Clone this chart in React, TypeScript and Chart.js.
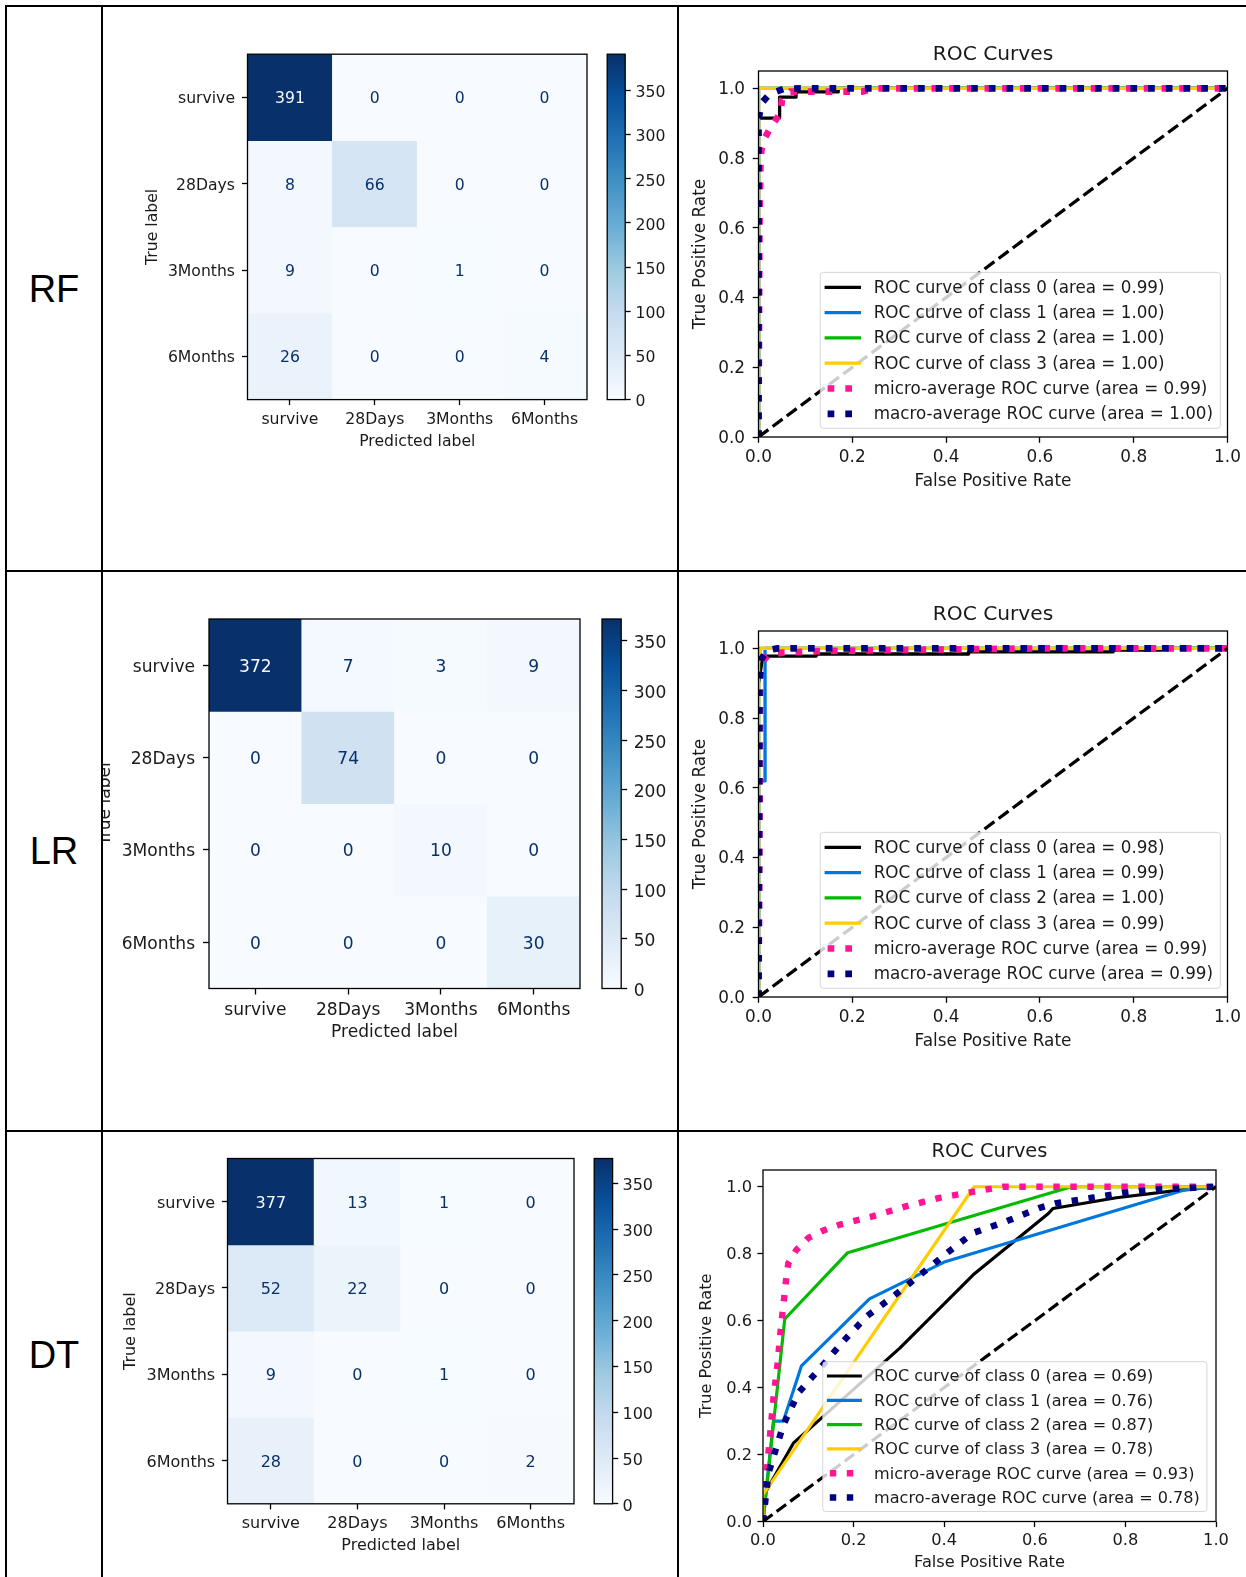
import React, { useEffect, useRef } from "react";
import { Chart, registerables } from "chart.js";

Chart.register(...registerables);

// ---------------- data ----------------
const MODEL_NAMES = ["RF", "LR", "DT"];
const CLASS_LABELS = ["survive", "28Days", "3Months", "6Months"];

const CM_RF = [
  [391, 0, 0, 0],
  [8, 66, 0, 0],
  [9, 0, 1, 0],
  [26, 0, 0, 4],
];
const CM_LR = [
  [372, 7, 3, 9],
  [0, 74, 0, 0],
  [0, 0, 10, 0],
  [0, 0, 0, 30],
];
const CM_DT = [
  [377, 13, 1, 0],
  [52, 22, 0, 0],
  [9, 0, 1, 0],
  [28, 0, 0, 2],
];

const COLORBAR_TICKS = [0, 50, 100, 150, 200, 250, 300, 350];
const ROC_TICKS = [0, 0.2, 0.4, 0.6, 0.8, 1.0];

const CURVE_NAMES = [
  "ROC curve of class 0",
  "ROC curve of class 1",
  "ROC curve of class 2",
  "ROC curve of class 3",
  "micro-average ROC curve",
  "macro-average ROC curve",
];
const AUC_RF = [0.99, 1.0, 1.0, 1.0, 0.99, 1.0];
const AUC_LR = [0.98, 0.99, 1.0, 0.99, 0.99, 0.99];
const AUC_DT = [0.69, 0.76, 0.87, 0.78, 0.93, 0.78];

const DIAGONAL = [[0, 0], [1, 1]];

// RF curves [fpr, tpr]
const RF_CLASS0 = [[0, 0], [0, 0.915], [0.045, 0.915], [0.045, 0.975], [0.08, 0.975], [0.08, 0.99], [0.17, 0.99], [0.17, 1], [1, 1]];
const RF_CLASS1 = [[0, 0], [0, 1], [1, 1]];
const RF_CLASS2 = [[0, 0], [0, 1], [1, 1]];
const RF_CLASS3 = [[0, 0], [0, 1], [1, 1]];
const RF_MICRO = [[0, 0], [0.002, 0.6], [0.004, 0.775], [0.006, 0.823], [0.013, 0.857], [0.029, 0.895], [0.047, 0.929], [0.05, 0.967], [0.068, 0.991], [0.221, 0.991], [0.25, 1], [1, 1]];
const RF_MACRO = [[0, 0], [0, 0.91], [0.006, 0.957], [0.024, 0.984], [0.053, 0.998], [0.09, 1], [1, 1]];

// LR curves
const LR_CLASS0 = [[0, 0], [0, 0.9], [0.008, 0.967], [0.012, 0.978], [0.123, 0.978], [0.123, 0.984], [0.448, 0.984], [0.448, 0.99], [0.756, 0.99], [0.756, 0.995], [0.858, 0.995], [0.858, 1], [1, 1]];
const LR_CLASS1 = [[0, 0], [0, 0.62], [0.014, 0.62], [0.014, 1], [1, 1]];
const LR_CLASS2 = [[0, 0], [0, 1], [1, 1]];
const LR_CLASS3 = [[0, 0], [0, 0.97], [0.005, 1], [1, 1]];
const LR_MICRO = [[0, 0], [0.004, 0.93], [0.01, 0.965], [0.02, 0.98], [0.05, 0.988], [0.15, 0.993], [0.4, 0.997], [0.6, 1], [1, 1]];
const LR_MACRO = [[0, 0], [0.002, 0.9], [0.006, 0.97], [0.02, 0.995], [0.04, 1], [1, 1]];

// DT curves
const DT_CLASS0 = [[0, 0], [0, 0.075], [0.067, 0.234], [0.302, 0.518], [0.464, 0.737], [0.63, 0.92], [0.64, 0.935], [0.78, 0.967], [0.92, 0.99], [1, 1]];
const DT_CLASS1 = [[0, 0], [0.023, 0.3], [0.045, 0.3], [0.085, 0.465], [0.235, 0.665], [0.4, 0.775], [0.93, 0.99], [1, 1]];
const DT_CLASS2 = [[0, 0], [0.048, 0.605], [0.187, 0.803], [0.681, 1], [1, 1]];
const DT_CLASS3 = [[0, 0], [0, 0.08], [0.466, 1], [1, 1]];
const DT_MICRO = [[0, 0], [0.005, 0.1], [0.015, 0.25], [0.023, 0.367], [0.032, 0.47], [0.039, 0.573], [0.051, 0.722], [0.056, 0.772], [0.074, 0.812], [0.1, 0.847], [0.133, 0.869], [0.17, 0.887], [0.243, 0.912], [0.317, 0.942], [0.39, 0.967], [0.464, 0.985], [0.53, 1], [1, 1]];
const DT_MACRO = [[0, 0], [0.008, 0.095], [0.012, 0.144], [0.045, 0.289], [0.078, 0.384], [0.126, 0.458], [0.177, 0.538], [0.229, 0.613], [0.288, 0.673], [0.347, 0.737], [0.406, 0.802], [0.464, 0.862], [0.538, 0.897], [0.611, 0.937], [0.645, 0.95], [0.726, 0.967], [0.798, 0.982], [0.871, 0.992], [1, 1]];

// ---------------- styles / layout ----------------
const FONT = "'DejaVu Sans', 'Noto Sans', sans-serif";
const TEXT = "#1a1a1a";
const CURVE_COLORS = ["#000000", "#0077dd", "#00bb00", "#ffcc00", "#ff1493", "#000080"];
const BLUES = ["#f7fbff", "#deebf7", "#c6dbef", "#9ecae1", "#6baed6", "#4292c6", "#2171b5", "#08519c", "#08306b"];

const ROW_BOUNDS = [
  { top: 7, bottom: 570 },
  { top: 572, bottom: 1130 },
  { top: 1132, bottom: 1577 },
];

const CM_LAYOUT = [
  { L: 247.5, R: 587.2, T: 54.2, B: 399.6, font: 15.65, xTickC: 418.3, xTitleC: 440.5, yTickR: 235, yTitleC: 153, cbL: 607.4, cbR: 625.2, cbLabelL: 635.5 },
  { L: 209, R: 579.5, T: 619, B: 988.5, font: 17.1, xTickC: 1008.6, xTitleC: 1031.8, yTickR: 195.1, yTitleC: 106, cbL: 601.5, cbR: 620.2, cbLabelL: 632.7 },
  { L: 227.5, R: 573.5, T: 1158.5, B: 1503.8, font: 16.0, xTickC: 1522.5, xTitleC: 1544.6, yTickR: 215.2, yTitleC: 131, cbL: 593.7, cbR: 611.6, cbLabelL: 621.5 },
];

const ROC_LAYOUT = [
  { L: 758.5, R: 1227.5, T: 71, B: 437, s: 1, titleC: 53.5, yTitleC: 701, yTickR: 745, xTickC: 455.5, xTitleC: 480, gapR: 7.1, gapB: 8.7 },
  { L: 758.5, R: 1227.5, T: 631, B: 997, s: 1, titleC: 613.5, yTitleC: 701, yTickR: 745, xTickC: 1015.5, xTitleC: 1040, gapR: 7.1, gapB: 8.7 },
  { L: 763, R: 1216, T: 1170, B: 1521.5, s: 0.961, titleC: 1151.4, yTitleC: 707, yTickR: 752, xTickC: 1538.6, xTitleC: 1561.7, gapR: 9.1, gapB: 10 },
];

const CM_CANVAS_LEFT = 103;
const ROC_CANVAS_LEFT = 679;
const PAGE_W = 1246;
const COL_DIVIDER = 677;
const ROC_FONT = 16.9;
const LEGEND_FONT = 16.75;
const ROC_TITLE_FONT = 20.2;
const TEXT_SHIFT = 0.11; // em, lowers text to match matplotlib centring

function hexToRgb(h: string) {
  const n = parseInt(h.slice(1), 16);
  return [(n >> 16) & 255, (n >> 8) & 255, n & 255];
}
function blues(t: number) {
  const v = Math.max(0, Math.min(1, t));
  const pos = v * 8;
  const i = Math.min(7, Math.floor(pos));
  const f = pos - i;
  const a = hexToRgb(BLUES[i]);
  const b = hexToRgb(BLUES[i + 1]);
  const c = a.map((x, k) => Math.round(x + (b[k] - x) * f));
  return `rgb(${c[0]},${c[1]},${c[2]})`;
}

const framePlugin = {
  id: "frame",
  afterDatasetsDraw(chart: any) {
    const { ctx, chartArea: a } = chart;
    ctx.save();
    ctx.strokeStyle = "#000";
    ctx.lineWidth = 1.3;
    ctx.strokeRect(a.left, a.top, a.right - a.left, a.bottom - a.top);
    ctx.restore();
  },
};

function cellTextPlugin(cm: number[][], vmax: number, font: number) {
  return {
    id: "cellText",
    afterDatasetsDraw(chart: any) {
      const ctx = chart.ctx;
      ctx.save();
      ctx.font = `${font}px ${FONT}`;
      ctx.textAlign = "center";
      ctx.textBaseline = "middle";
      cm.forEach((row, r) => {
        const meta = chart.getDatasetMeta(r);
        row.forEach((v, c) => {
          const el: any = meta.data[c];
          ctx.fillStyle = v > vmax / 2 ? BLUES[0] : BLUES[8];
          ctx.fillText(String(v), el.x, (el.y + el.base) / 2 + TEXT_SHIFT * font);
        });
      });
      ctx.restore();
    },
  };
}

function legendPlugin(p: any) {
  return {
    id: "rocLegend",
    afterDraw(chart: any) {
      const ctx = chart.ctx;
      const ca = chart.chartArea;
      const s = p.s;
      const items = chart.data.datasets.slice(0, 6);
      const font = LEGEND_FONT * s;
      ctx.save();
      ctx.font = `${font}px ${FONT}`;
      const textW = Math.max(...items.map((d: any) => ctx.measureText(d.label).width));
      const padL = 4.3 * s, handleLen = 36.4 * s, handleGap = 12.7 * s, padR = 7.4 * s;
      const rowH = 25.3 * s, padTop = 14.4 * s, padBot = 15 * s;
      const w = padL + handleLen + handleGap + textW + padR;
      const h = padTop + rowH * (items.length - 1) + padBot;
      const x = ca.right - p.gapR - w;
      const y = ca.bottom - p.gapB - h;
      const r = 3;
      ctx.beginPath();
      ctx.moveTo(x + r, y);
      ctx.lineTo(x + w - r, y);
      ctx.quadraticCurveTo(x + w, y, x + w, y + r);
      ctx.lineTo(x + w, y + h - r);
      ctx.quadraticCurveTo(x + w, y + h, x + w - r, y + h);
      ctx.lineTo(x + r, y + h);
      ctx.quadraticCurveTo(x, y + h, x, y + h - r);
      ctx.lineTo(x, y + r);
      ctx.quadraticCurveTo(x, y, x + r, y);
      ctx.closePath();
      ctx.fillStyle = "rgba(255,255,255,0.8)";
      ctx.fill();
      ctx.strokeStyle = "rgba(204,204,204,0.8)";
      ctx.lineWidth = 1;
      ctx.stroke();
      items.forEach((d: any, i: number) => {
        const cy = y + padTop + i * rowH + 0.5;
        const dashed = d.borderDash && d.borderDash.length > 0;
        ctx.beginPath();
        ctx.strokeStyle = d.borderColor;
        ctx.lineWidth = d.borderWidth;
        ctx.setLineDash(d.borderDash || []);
        ctx.lineDashOffset = dashed ? -3 * s : 0;
        ctx.lineCap = "butt";
        ctx.moveTo(x + padL, cy);
        ctx.lineTo(x + padL + handleLen, cy);
        ctx.stroke();
        ctx.setLineDash([]);
        ctx.lineDashOffset = 0;
        ctx.fillStyle = TEXT;
        ctx.textAlign = "left";
        ctx.textBaseline = "middle";
        ctx.fillText(d.label, x + padL + handleLen + handleGap, cy + 0.07 * font);
      });
      ctx.restore();
    },
  };
}

function heatmapConfig(cm: number[][], p: any, row: any) {
  const vmax = Math.max(...cm.flat());
  const cT = row.top, cB = row.bottom;
  const cR = p.R + 4;
  const lh = p.font * 1.2;
  const tl = p.font * 0.35;
  const sh = TEXT_SHIFT * p.font;
  const f = { family: FONT, size: p.font };
  return {
    type: "bar",
    data: {
      labels: CLASS_LABELS,
      datasets: cm.map((vals, r) => ({
        data: vals.map(() => [r - 0.5, r + 0.5]),
        backgroundColor: vals.map((v) => blues(v / vmax)),
        borderWidth: 0,
        barPercentage: 1,
        categoryPercentage: 1,
        grouped: false,
      })),
    },
    options: {
      responsive: false,
      maintainAspectRatio: false,
      animation: false,
      devicePixelRatio: 1,
      events: [],
      layout: { padding: { left: 0, top: p.T - cT, right: cR - p.R, bottom: 0 } },
      plugins: { legend: { display: false }, tooltip: { enabled: false }, title: { display: false } },
      scales: {
        x: {
          type: "category",
          offset: true,
          grid: { display: true, drawOnChartArea: false, drawTicks: true, tickLength: tl, tickWidth: 1.3, tickColor: "#000", offset: false },
          border: { display: false },
          ticks: { font: f, color: TEXT, padding: p.xTickC - p.B - tl - lh / 2 + sh, maxRotation: 0, autoSkip: false },
          title: { display: true, text: "Predicted label", font: f, color: TEXT, padding: { top: 0, bottom: cB - p.xTitleC - lh / 2 - 1 } },
          afterFit: (sc: any) => { sc.height = cB - p.B; },
        },
        y: {
          type: "linear",
          min: -0.5,
          max: 3.5,
          reverse: true,
          afterBuildTicks: (sc: any) => { sc.ticks = CLASS_LABELS.map((_, i) => ({ value: i })); },
          grid: { display: true, drawOnChartArea: false, drawTicks: true, tickLength: tl, tickWidth: 1.3, tickColor: "#000" },
          border: { display: false },
          ticks: { font: f, color: TEXT, padding: p.L - p.yTickR - tl, labelOffset: sh, callback: (v: any) => CLASS_LABELS[Math.round(v)] },
          title: { display: true, text: "True label", font: f, color: TEXT, padding: { top: p.yTitleC - CM_CANVAS_LEFT - lh / 2, bottom: 0 } },
          afterFit: (sc: any) => { sc.width = p.L - CM_CANVAS_LEFT; },
        },
      },
    },
    plugins: [framePlugin, cellTextPlugin(cm, vmax, p.font)],
  };
}

function colorbarConfig(cm: number[][], p: any, row: any) {
  const vmax = Math.max(...cm.flat());
  const cL = p.R + 4, cT = row.top, cB = row.bottom;
  const tl = p.font * 0.35;
  const f = { family: FONT, size: p.font };
  return {
    type: "bar",
    data: {
      labels: ["count"],
      datasets: [
        {
          data: [vmax],
          backgroundColor: (ctx: any) => {
            const ca = ctx.chart.chartArea;
            if (!ca) return BLUES[4];
            const g = ctx.chart.ctx.createLinearGradient(0, ca.bottom, 0, ca.top);
            BLUES.forEach((c, i) => g.addColorStop(i / 8, c));
            return g;
          },
          borderWidth: 0,
          barPercentage: 1,
          categoryPercentage: 1,
        },
      ],
    },
    options: {
      responsive: false,
      maintainAspectRatio: false,
      animation: false,
      devicePixelRatio: 1,
      events: [],
      layout: { padding: { left: p.cbL - cL, top: p.T - cT, right: 0, bottom: cB - p.B } },
      plugins: { legend: { display: false }, tooltip: { enabled: false } },
      scales: {
        x: { display: false },
        y: {
          position: "right",
          min: 0,
          max: vmax,
          afterBuildTicks: (sc: any) => { sc.ticks = COLORBAR_TICKS.map((v) => ({ value: v })); },
          grid: { display: true, drawOnChartArea: false, drawTicks: true, tickLength: tl, tickWidth: 1.3, tickColor: "#000" },
          border: { display: false },
          ticks: { font: f, color: TEXT, padding: p.cbLabelL - p.cbR - tl, labelOffset: 0.18 * p.font },
          afterFit: (sc: any) => { sc.width = COL_DIVIDER - p.cbR; },
        },
      },
    },
    plugins: [framePlugin],
  };
}

function rocConfig(curves: number[][][], aucs: number[], p: any, row: any) {
  const cT = row.top, cB = row.bottom;
  const s = p.s;
  const font = ROC_FONT * s, lh = font * 1.2;
  const tFont = ROC_TITLE_FONT * s, tlh = tFont * 1.2;
  const tl = 5.8 * s;
  const lw = 3.3 * s, dotW = 6.7 * s;
  const sh = TEXT_SHIFT * font;
  const titleTop = p.titleC - cT - tlh / 2 + 1;
  const titleBottom = p.T - cT - titleTop - tlh;
  const f = { family: FONT, size: font };
  const datasets: any[] = curves.map((pts, i) => ({
    label: `${CURVE_NAMES[i]} (area = ${aucs[i].toFixed(2)})`,
    data: pts.map(([x, y]) => ({ x, y })),
    borderColor: CURVE_COLORS[i],
    borderWidth: i < 4 ? lw : dotW,
    borderDash: i < 4 ? [] : [dotW, 11 * s],
    borderCapStyle: "butt",
    borderJoinStyle: i < 4 ? "round" : "miter",
    pointRadius: 0,
    tension: 0,
    fill: false,
    order: -i,
    clip: 0,
  }));
  datasets.push({
    label: "",
    data: DIAGONAL.map(([x, y]) => ({ x, y })),
    borderColor: "#000",
    borderWidth: lw,
    borderDash: [12.3 * s, 5.3 * s],
    borderCapStyle: "butt",
    pointRadius: 0,
    tension: 0,
    fill: false,
    order: -6,
    clip: 0,
  });
  return {
    type: "line",
    data: { datasets },
    options: {
      responsive: false,
      maintainAspectRatio: false,
      animation: false,
      devicePixelRatio: 1,
      events: [],
      layout: { padding: { left: 0, top: 0, right: PAGE_W - p.R, bottom: 0 } },
      plugins: {
        legend: { display: false },
        tooltip: { enabled: false },
        title: {
          display: true,
          text: "ROC Curves",
          fullSize: false,
          color: TEXT,
          font: { family: FONT, size: tFont, weight: "normal" },
          padding: { top: titleTop, bottom: titleBottom },
        },
      },
      scales: {
        x: {
          type: "linear",
          min: 0,
          max: 1,
          afterBuildTicks: (sc: any) => { sc.ticks = ROC_TICKS.map((v) => ({ value: v })); },
          grid: { display: true, drawOnChartArea: false, drawTicks: true, tickLength: tl, tickWidth: 1.3, tickColor: "#000" },
          border: { display: false },
          ticks: { font: f, color: TEXT, padding: p.xTickC - p.B - tl - lh / 2 + sh, maxRotation: 0, autoSkip: false, callback: (v: any) => Number(v).toFixed(1) },
          title: { display: true, text: "False Positive Rate", font: f, color: TEXT, padding: { top: 0, bottom: cB - p.xTitleC - lh / 2 - 1.5 } },
          afterFit: (sc: any) => { sc.height = cB - p.B; },
        },
        y: {
          type: "linear",
          min: 0,
          max: 1.05,
          afterBuildTicks: (sc: any) => { sc.ticks = ROC_TICKS.map((v) => ({ value: v })); },
          grid: { display: true, drawOnChartArea: false, drawTicks: true, tickLength: tl, tickWidth: 1.3, tickColor: "#000" },
          border: { display: false },
          ticks: { font: f, color: TEXT, padding: p.L - p.yTickR - tl, labelOffset: sh * 0.7, callback: (v: any) => Number(v).toFixed(1) },
          title: { display: true, text: "True Positive Rate", font: f, color: TEXT, padding: { top: p.yTitleC - ROC_CANVAS_LEFT - lh / 2, bottom: 0 } },
          afterFit: (sc: any) => { sc.width = p.L - ROC_CANVAS_LEFT; },
        },
      },
    },
    plugins: [framePlugin, legendPlugin(p)],
  };
}

function ChartCanvas({ left, top, width, height, build }: any) {
  const ref = useRef<HTMLCanvasElement>(null);
  useEffect(() => {
    const chart = new Chart(ref.current as HTMLCanvasElement, build());
    return () => chart.destroy();
  }, []);
  return (
    <canvas
      ref={ref}
      width={Math.round(width)}
      height={Math.round(height)}
      style={{ position: "absolute", left, top, width: Math.round(width), height: Math.round(height) }}
    />
  );
}

const ROWS = [
  { name: MODEL_NAMES[0], cm: CM_RF, curves: [RF_CLASS0, RF_CLASS1, RF_CLASS2, RF_CLASS3, RF_MICRO, RF_MACRO], aucs: AUC_RF },
  { name: MODEL_NAMES[1], cm: CM_LR, curves: [LR_CLASS0, LR_CLASS1, LR_CLASS2, LR_CLASS3, LR_MICRO, LR_MACRO], aucs: AUC_LR },
  { name: MODEL_NAMES[2], cm: CM_DT, curves: [DT_CLASS0, DT_CLASS1, DT_CLASS2, DT_CLASS3, DT_MICRO, DT_MACRO], aucs: AUC_DT },
];

export default function App() {
  const line = (l: number, t: number, w: number, h: number, k: string) => (
    <div key={k} style={{ position: "absolute", left: l, top: t, width: w, height: h, background: "#000" }} />
  );
  return (
    <div style={{ position: "absolute", left: 0, top: 0, width: PAGE_W, height: 1577, background: "#fff", overflow: "hidden" }}>
      {ROWS.map((r, i) => {
        const rb = ROW_BOUNDS[i];
        const cmL = CM_LAYOUT[i];
        const rocL = ROC_LAYOUT[i];
        return (
          <React.Fragment key={r.name}>
            <div
              style={{
                position: "absolute",
                left: 7,
                top: rb.top,
                width: 94,
                height: rb.bottom - rb.top,
                display: "flex",
                alignItems: "center",
                justifyContent: "center",
                fontFamily: "'Liberation Sans', Arial, sans-serif",
                fontSize: 38,
                lineHeight: 1,
                color: "#000",
              }}
            >
              {r.name}
            </div>
            <ChartCanvas
              left={CM_CANVAS_LEFT}
              top={rb.top}
              width={cmL.R + 4 - CM_CANVAS_LEFT}
              height={rb.bottom - rb.top}
              build={() => heatmapConfig(r.cm, cmL, rb)}
            />
            <ChartCanvas
              left={cmL.R + 4}
              top={rb.top}
              width={COL_DIVIDER - (cmL.R + 4)}
              height={rb.bottom - rb.top}
              build={() => colorbarConfig(r.cm, cmL, rb)}
            />
            <ChartCanvas
              left={ROC_CANVAS_LEFT}
              top={rb.top}
              width={PAGE_W - ROC_CANVAS_LEFT}
              height={rb.bottom - rb.top}
              build={() => rocConfig(r.curves, r.aucs, rocL, rb)}
            />
          </React.Fragment>
        );
      })}
      {line(5, 5, 2, 1572, "v0")}
      {line(101, 5, 2, 1572, "v1")}
      {line(677, 5, 2, 1572, "v2")}
      {line(5, 5, 1241, 2, "h0")}
      {line(5, 570, 1241, 2, "h1")}
      {line(5, 1130, 1241, 2, "h2")}
    </div>
  );
}
